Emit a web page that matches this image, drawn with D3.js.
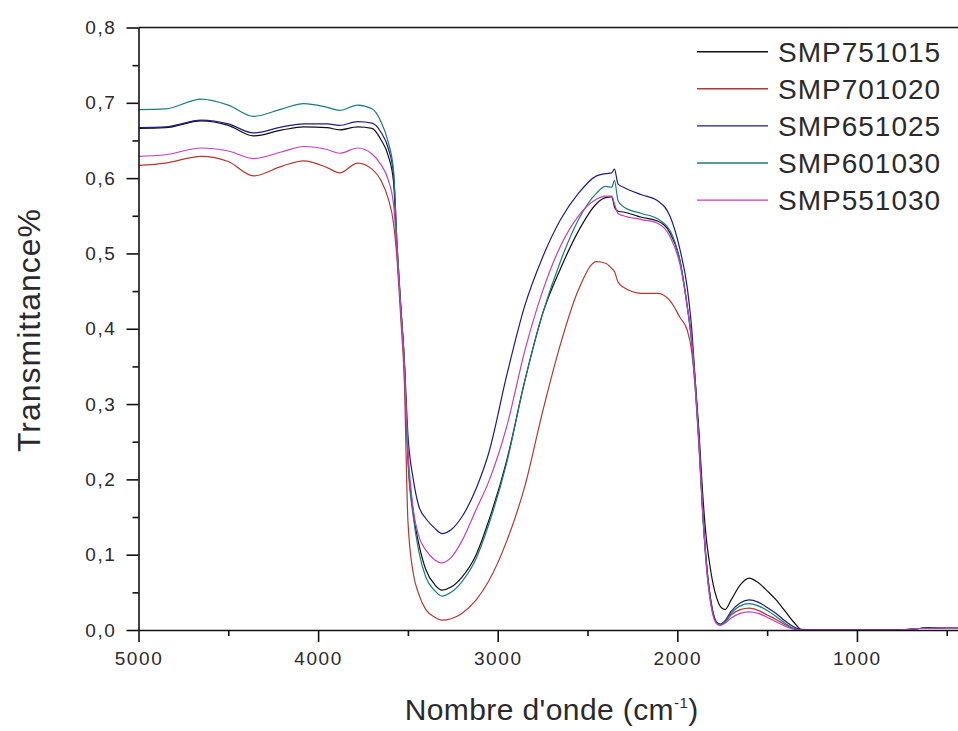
<!DOCTYPE html>
<html>
<head>
<meta charset="utf-8">
<script src="https://cdn.jsdelivr.net/npm/d3@7"></script>
<style>
    body { margin: 0; background: #fff; }
    svg { display: block; font-family: "Liberation Sans", Arial, sans-serif; }
    .tick-label { font-size: 19px; letter-spacing: 1.6px; fill: #2a2a2a; }
</style>
</head>
<body>
<div id="chart"></div>
<script>
// FTIR spectra, wavenumber grid shared by all samples (cm-1, descending)
const wavenumbers = [
    5000, 4850, 4650, 4500, 4360, 4200, 4080, 3950, 3880, 3780,
    3700, 3650, 3610, 3580, 3560, 3540, 3520, 3500, 3470, 3440,
    3400, 3350, 3310, 3260, 3200, 3120, 3050, 2950, 2850, 2750,
    2650, 2550, 2450, 2400, 2365, 2350, 2330, 2300, 2200, 2110,
    2040, 1985, 1945, 1920, 1900, 1880, 1860, 1840, 1820, 1800,
    1780, 1760, 1735, 1700, 1650, 1600, 1550, 1500, 1450, 1400,
    1350, 1310, 1200, 1000, 800, 700, 650, 600, 500, 400
];

const smp751015 = [
    .666, .667, .676, .670, .656, .664, .668, .667, .664, .668,
    .666, .651, .630, .595, .500, .430, .355, .230, .155, .115,
    .080, .060, .053, .057, .070, .100, .145, .225, .330, .420,
    .480, .530, .566, .574, .575, .562, .556, .555, .548, .543,
    .527, .490, .430, .385, .330, .265, .185, .125, .088, .060,
    .042, .031, .027, .040, .060, .069, .063, .052, .040, .025,
    .010, .001, 0, 0, 0, .001, .002, .003, .003, .003
];

const smp701020 = [
    .617, .620, .629, .622, .603, .616, .623, .614, .607, .620,
    .612, .597, .573, .540, .490, .415, .330, .145, .075, .048,
    .027, .017, .013, .015, .022, .040, .065, .118, .190, .290,
    .380, .452, .489, .487, .480, .476, .462, .455, .447, .447,
    .437, .415, .398, .370, .320, .245, .160, .095, .050, .022,
    .010, .007, .010, .020, .027, .029, .026, .020, .014, .007,
    .002, 0, 0, 0, 0, .001, .002, .002, .003, .003
];

const smp651025 = [
    .667, .668, .677, .672, .660, .668, .672, .672, .670, .675,
    .673, .661, .640, .605, .510, .430, .360, .260, .200, .165,
    .148, .135, .128, .133, .150, .188, .235, .338, .430, .495,
    .545, .580, .603, .606, .607, .612, .592, .588, .578, .570,
    .549, .505, .455, .400, .330, .255, .165, .095, .050, .022,
    .010, .008, .012, .025, .036, .040, .037, .030, .022, .012,
    .004, 0, 0, 0, 0, .001, .002, .003, .003, .003
];

const smp601030 = [
    .691, .692, .705, .697, .682, .692, .699, .694, .690, .697,
    .692, .675, .648, .610, .510, .430, .355, .225, .150, .105,
    .070, .052, .045, .050, .064, .095, .140, .222, .330, .420,
    .490, .545, .580, .589, .588, .597, .570, .562, .553, .546,
    .530, .490, .430, .380, .320, .250, .160, .090, .045, .020,
    .009, .007, .011, .022, .032, .035, .032, .026, .018, .009,
    .002, 0, 0, 0, 0, .001, .002, .002, .003, .003
];

const smp551030 = [
    .629, .631, .640, .636, .626, .635, .642, .638, .633, .640,
    .632, .618, .598, .565, .500, .425, .350, .240, .160, .125,
    .106, .093, .089, .096, .118, .160, .197, .270, .370, .450,
    .510, .550, .572, .576, .576, .566, .553, .550, .545, .540,
    .522, .485, .430, .385, .325, .250, .165, .090, .045, .018,
    .008, .006, .009, .016, .022, .024, .022, .017, .011, .005,
    .001, 0, 0, 0, 0, .001, .002, .002, .003, .003
];

const seriesNames = ['SMP751015', 'SMP701020', 'SMP651025', 'SMP601030', 'SMP551030'];
const seriesValues = [smp751015, smp701020, smp651025, smp601030, smp551030];
const seriesColors = ['#111111', '#b5372f', '#1c1c8a', '#1d7b7b', '#c23ec2'];

const xMajorTicks = [5000, 4000, 3000, 2000, 1000];
const xMinorTicks = [4500, 3500, 2500, 1500, 500];
const yMajorTicks = [0, 0.1, 0.2, 0.3, 0.4, 0.5, 0.6, 0.7, 0.8];
const yMinorTicks = [0.05, 0.15, 0.25, 0.35, 0.45, 0.55, 0.65, 0.75];

const width = 958;
const height = 731;
const plot = { left: 138.5, top: 27.5, bottom: 630, right: 964.7 };

const svg = d3.select('#chart')
    .append('svg')
    .attr('width', width)
    .attr('height', height);

const x = d3.scaleLinear().domain([5000, 400]).range([plot.left, plot.right]);
const y = d3.scaleLinear().domain([0, 0.8]).range([plot.bottom, plot.top]);

svg.append('clipPath')
    .attr('id', 'plot-clip')
    .append('rect')
    .attr('x', plot.left)
    .attr('y', plot.top)
    .attr('width', plot.right - plot.left)
    .attr('height', plot.bottom - plot.top);

// spectra
const line = d3.line()
    .x((d, i) => x(wavenumbers[i]))
    .y(d => y(d))
    .curve(d3.curveMonotoneX);

const lines = svg.append('g').attr('clip-path', 'url(#plot-clip)');
seriesValues.forEach((values, i) => {
    lines.append('path')
        .attr('d', line(values))
        .attr('fill', 'none')
        .attr('stroke', seriesColors[i])
        .attr('stroke-width', 1.2);
});

// axes
const commaFormat = v => d3.format('.1f')(v).replace('.', ',');

const xAxis = svg.append('g')
    .attr('transform', `translate(0,${plot.bottom})`)
    .call(d3.axisBottom(x).tickValues(xMajorTicks).tickSize(12).tickSizeOuter(0).tickPadding(10).tickFormat(d3.format('d')));
svg.append('g')
    .attr('transform', `translate(0,${plot.bottom})`)
    .call(d3.axisBottom(x).tickValues(xMinorTicks).tickSize(6).tickFormat(''))
    .call(g => g.select('.domain').remove());

const yAxis = svg.append('g')
    .attr('transform', `translate(${plot.left},0)`)
    .call(d3.axisLeft(y).tickValues(yMajorTicks).tickSize(12).tickSizeOuter(0).tickPadding(10).tickFormat(commaFormat));
svg.append('g')
    .attr('transform', `translate(${plot.left},0)`)
    .call(d3.axisLeft(y).tickValues(yMinorTicks).tickSize(6).tickFormat(''))
    .call(g => g.select('.domain').remove());

[xAxis, yAxis].forEach(g => {
    g.selectAll('text').attr('class', 'tick-label').attr('font-family', null).attr('font-size', null);
});
svg.selectAll('.domain, .tick line').attr('stroke', '#111').attr('stroke-width', 1.6);

// top frame line
svg.append('line')
    .attr('x1', plot.left)
    .attr('x2', plot.right)
    .attr('y1', plot.top)
    .attr('y2', plot.top)
    .attr('stroke', '#111')
    .attr('stroke-width', 1.6);

// axis titles
const xTitle = svg.append('text')
    .attr('x', (plot.left + plot.right) / 2)
    .attr('y', 720)
    .attr('text-anchor', 'middle')
    .style('font-size', '30px')
    .style('letter-spacing', '0.4px')
    .style('fill', '#2a2a2a');
xTitle.append('tspan').text("Nombre d'onde (cm");
xTitle.append('tspan').attr('dy', -12).style('font-size', '15px').text('-1');
xTitle.append('tspan').attr('dy', 12).text(')');

svg.append('text')
    .attr('transform', 'translate(40,330) rotate(-90)')
    .attr('text-anchor', 'middle')
    .style('font-size', '32px')
    .style('letter-spacing', '1px')
    .style('fill', '#2a2a2a')
    .text('Transmittance%');

// legend
const legend = svg.append('g').attr('transform', 'translate(697,51.7)');
seriesNames.forEach((name, i) => {
    const row = legend.append('g').attr('transform', `translate(0,${i * 37.1})`);
    row.append('line')
        .attr('x1', 0)
        .attr('x2', 71)
        .attr('stroke', seriesColors[i])
        .attr('stroke-width', 1.4);
    row.append('text')
        .attr('x', 81)
        .attr('dy', '0.36em')
        .style('font-size', '28px')
        .style('letter-spacing', '1px')
        .style('fill', '#2a2a2a')
        .text(name);
});
</script>
</body>
</html>
